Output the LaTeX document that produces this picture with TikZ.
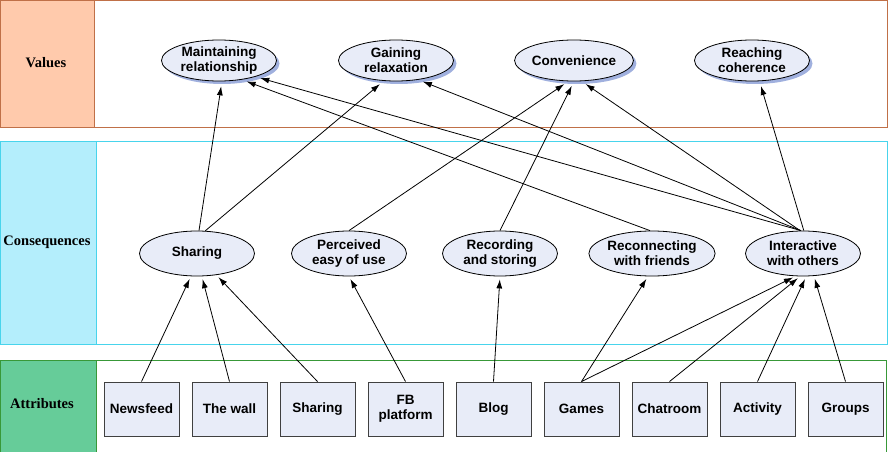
\documentclass[tikz,border=0pt]{standalone}
\usepackage{fontspec}
\newfontfamily\arialfont{Liberation Sans}
\newfontfamily\timesfont{Liberation Serif}
\usepackage{tikz}
\usetikzlibrary{arrows.meta,shapes.geometric,shadows}

\definecolor{valfill}{RGB}{255,202,172}
\definecolor{valline}{RGB}{192,112,72}
\definecolor{consfill}{RGB}{180,238,252}
\definecolor{consline}{RGB}{72,212,236}
\definecolor{attrfill}{RGB}{102,204,153}
\definecolor{attrline}{RGB}{56,152,56}
\definecolor{nodefill}{RGB}{232,236,248}
\definecolor{shadowblue}{RGB}{160,176,222}

\tikzset{
  lbl/.style={font=\timesfont\bfseries\fontsize{14.5}{16}\selectfont},
  oval/.style={ellipse, draw=black, fill=nodefill, line width=0.8pt,
    minimum width=115pt, minimum height=45pt, inner sep=0pt, align=center,
    font=\arialfont\bfseries\fontsize{13.5}{15}\selectfont},
  valoval/.style={oval, minimum height=41pt,
    drop shadow={shadow xshift=3pt, shadow yshift=-3pt, fill=shadowblue, opacity=1}},
  attrbox/.style={rectangle, draw=black!75, fill=nodefill, line width=0.9pt,
    minimum width=75pt, minimum height=54pt, inner sep=0pt, align=center,
    font=\arialfont\bfseries\fontsize{13.5}{15}\selectfont},
  link/.style={-{Latex[length=9pt,width=6pt]}, line width=0.8pt, shorten >=3pt}
}

\begin{document}
\begin{tikzpicture}[x=1pt,y=-1pt]

\useasboundingbox (0,0) rectangle (892,452);

% bands
\draw[valline, line width=1pt, fill=valfill] (0.5,0.5) rectangle (94,127);
\draw[valline, line width=1pt] (94,0.5) rectangle (887,127);
\draw[consline, line width=1pt, fill=consfill] (0,141) rectangle (96,344);
\draw[consline, line width=1pt] (96,141) rectangle (887,344);
\draw[attrline, line width=1pt, fill=attrfill] (0,360) rectangle (96,455);
\draw[attrline, line width=1pt] (96,360) rectangle (886,455);

\node[lbl] (values) at (46,63) {Values};
\node[lbl] (consequences) at (47,242) {Consequences};
\node[lbl] (attributes) at (42,404) {Attributes};

% values
\foreach \name/\x/\txt in {maintaining/219/{Maintaining\\relationship},
    gaining/396/{Gaining\\relaxation}, convenience/574/{Convenience},
    reaching/752/{Reaching\\coherence}}
    \node[valoval] (\name) at (\x,60.5) {\txt};

% consequences
\foreach \name/\x/\txt in {sharing/197/{Sharing},
    perceived/349/{Perceived\\easy of use}, recording/500/{Recording\\and storing},
    reconnecting/652/{Reconnecting\\with friends}, interactive/803/{Interactive\\with others}}
    \node[oval] (\name) at (\x,253.5) {\txt};

% attributes
\foreach \name/\x/\txt in {newsfeed/141.5/{Newsfeed}, wall/229.5/{The wall},
    sharingA/317.5/{Sharing}, fb/405.5/{FB\\platform}, blog/493.5/{Blog},
    games/581.5/{Games}, chatroom/669.5/{Chatroom}, activity/757.5/{Activity},
    groups/845.5/{Groups}}
    \node[attrbox] (\name) at (\x,409) {\txt};

% attributes -> consequences
\foreach \a/\b in {newsfeed/sharing.-105, wall/sharing.-78, sharingA/sharing.-48,
    fb/perceived.south, blog/recording.south, games/reconnecting.-100,
    games/interactive.-108, chatroom/interactive.-97, activity/interactive.-82,
    groups/interactive.-64}
    \draw[link] (\a.north) -- (\b);

% consequences -> values
\foreach \a/\b in {sharing.85/maintaining.-82, sharing.70/gaining.-121,
    perceived.north/convenience.-105, recording.north/convenience.south,
    reconnecting.95/maintaining.-40, interactive.95/maintaining.-24,
    interactive.95/gaining.-41, interactive.97/convenience.-70,
    interactive.88/reaching.-70}
    \draw[link, shorten >=5pt] (\a) -- (\b);

\end{tikzpicture}
\end{document}
